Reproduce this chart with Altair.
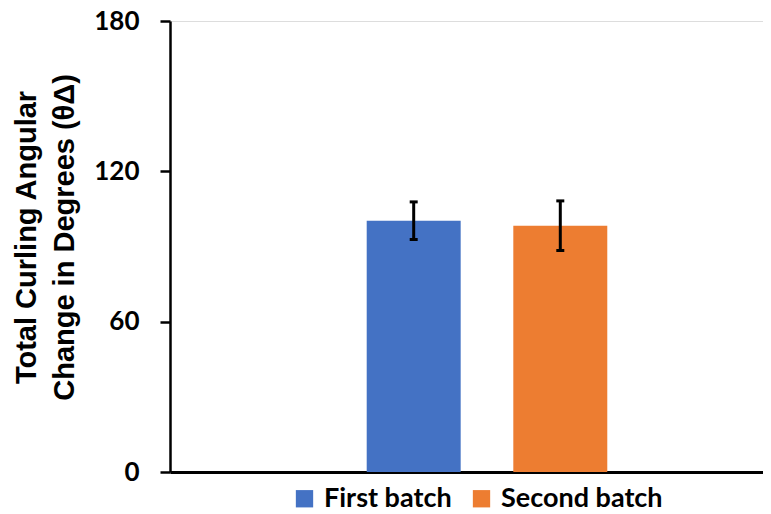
import altair as alt
import pandas as pd

series = ["First batch", "Second batch"]
means = [100.3, 98.3]
errors = [7.5, 9.9]
colors = ["#4472C4", "#ED7D31"]
y_ticks = [0, 60, 120, 180]

df = pd.DataFrame({"series": series, "mean": means, "err": errors})
df["lo"] = df["mean"] - df["err"]
df["hi"] = df["mean"] + df["err"]

# empty slots either side of the two bars (Excel-style single cluster)
x_domain = ["_left"] + series + ["_right"]
xscale = alt.Scale(domain=x_domain, paddingInner=0.359, paddingOuter=0.202, align=0.846)
x = alt.X("series:N", scale=xscale,
          axis=alt.Axis(title=None, labels=False, ticks=False, domain=True,
                        domainColor="black", domainWidth=3))

yaxis = alt.Axis(values=y_ticks, grid=False, domainColor="black", domainWidth=2.5,
                 tickColor="black", tickWidth=2.5, tickSize=10, labelPadding=21,
                 labelFont="Lato", labelFontWeight="bold", labelFontSize=26, labelColor="black",
                 title=["Total Curling Angular", "Change in Degrees (θΔ)"],
                 titleFont="Liberation Sans", titleFontWeight="bold", titleFontSize=29,
                 titleColor="black", titleLineHeight=38, titleX=-135, titleY=216,
                 titleAngle=-90, titleAlign="center", titleBaseline="alphabetic")

bars = alt.Chart(df).mark_bar().encode(
    x=x,
    y=alt.Y("mean:Q", scale=alt.Scale(domain=[0, 180], nice=False), axis=yaxis),
    color=alt.Color("series:N", scale=alt.Scale(domain=series, range=colors),
                    legend=alt.Legend(title=None, orient="none", direction="horizontal",
                                      legendX=121, legendY=464,
                                      symbolType="square", symbolSize=300, symbolStrokeWidth=0,
                                      symbolOpacity=1, labelLimit=400,
                                      labelFont="Lato", labelFontWeight="bold", labelFontSize=27,
                                      labelColor="black", labelOffset=6, columnPadding=16)),
)

rule = alt.Chart(df).mark_rule(color="black", strokeWidth=3).encode(
    x=alt.X("series:N", scale=xscale), y="lo:Q", y2="hi:Q")
cap_lo = alt.Chart(df).mark_tick(color="black", thickness=3, size=8, opacity=1).encode(
    x=alt.X("series:N", scale=xscale), y="lo:Q")
cap_hi = alt.Chart(df).mark_tick(color="black", thickness=3, size=8, opacity=1).encode(
    x=alt.X("series:N", scale=xscale), y="hi:Q")

chart = alt.layer(bars, rule, cap_lo, cap_hi).properties(
    width=593, height=451,
    autosize=alt.AutoSizeParams(type="none"),
    padding={"left": 162, "top": 13, "right": 0, "bottom": 40},
).configure_view(stroke=None).configure(background="white")

chart.save("out.html", embed_options={"renderer": "svg", "actions": False})
